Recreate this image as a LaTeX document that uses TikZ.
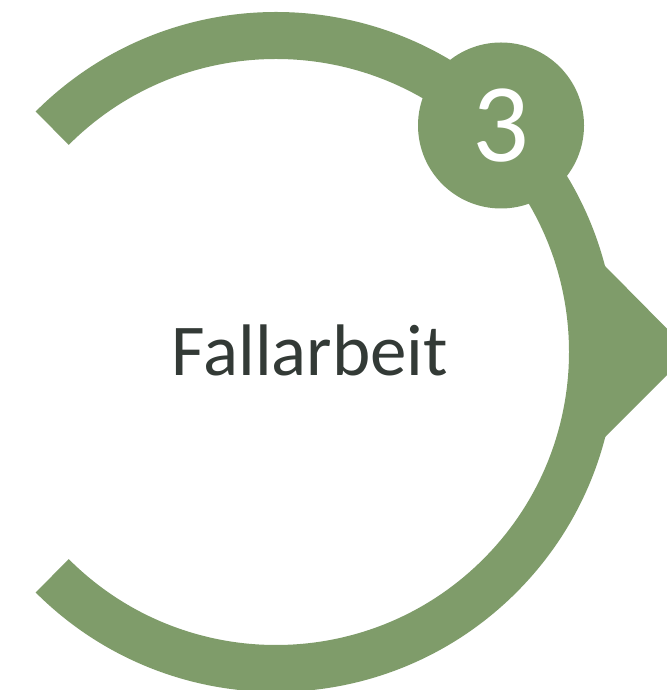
\documentclass[tikz,border=0pt]{standalone}
\usepackage{fontspec}
\setmainfont{Carlito}
\definecolor{ringgreen}{RGB}{127,156,106}
\definecolor{textgray}{RGB}{51,58,54}

\begin{document}
\begin{tikzpicture}[x=1pt,y=1pt,
  ring/.style={line width=47pt, color=ringgreen},
  numdot/.style={circle, fill=ringgreen, minimum size=166pt, inner sep=0pt,
    text=white, font=\fontsize{112}{120}\selectfont},
  title/.style={text=textgray, anchor=base, font=\fontsize{73}{80}\selectfont}]
  \useasboundingbox (0,0) rectangle (666,690);
  \coordinate (c) at (276,338);
  % open ring
  \draw[ring] (c) ++(135:316.5) arc[start angle=135, end angle=-135, radius=316.5];
  % arrow head on the right
  \fill[ringgreen] (604,425) -- (690,338) -- (604,252) -- cycle;
  \node[numdot] (num) at (501,564.5) {3};
  \node[title] (label) at (310,314) {Fallarbeit};
\end{tikzpicture}
\end{document}
